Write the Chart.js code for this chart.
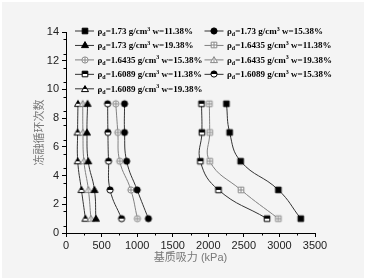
<!DOCTYPE html>
<html><head><meta charset="utf-8">
<script src="https://cdn.jsdelivr.net/npm/chart.js@4/dist/chart.umd.min.js"></script>
<style>
html,body{margin:0;padding:0;background:#fff;}
#bg{position:absolute;left:2px;top:2px;width:362px;height:276px;background:#f4f4f4;}
#wrap{position:absolute;left:0;top:0;width:366px;height:280px;}
</style></head><body>
<div id="bg"></div>
<div id="wrap"><canvas id="c" width="366" height="280"></canvas></div>
<script>
// ---- data ----
const cycles = [1, 3, 5, 7, 9];               // 冻融循环次数
const densities = ['1.73', '1.6435', '1.6089']; // ρd g/cm3
const moistures = ['11.38%', '15.38%', '19.38%'];
// 基质吸力 (kPa) at cycles 1,3,5,7,9
const d173_w1138   = [3300, 2985, 2455, 2300, 2255];
const d173_w1538   = [1158, 1000, 853, 823, 823];
const d173_w1938   = [420, 400, 312, 295, 303];
const d16435_w1138 = [2985, 2460, 2020, 2020, 2015];
const d16435_w1538 = [1004, 912, 755, 728, 700];
const d16435_w1938 = [350, 315, 252, 238, 235];
const d16089_w1138 = [2826, 2143, 1888, 1910, 1905];
const d16089_w1538 = [781, 620, 598, 589, 585];
const d16089_w1938 = [273, 217, 165, 163, 168];
const xTickValues = [0, 500, 1000, 1500, 2000, 2500, 3000, 3500];
const yTickValues = [0,1,2,3,4,5,6,7,8,9,10,11,12,13,14];

const seriesValues = [d173_w1138, d173_w1538, d173_w1938, d16435_w1138, d16435_w1538,
                      d16435_w1938, d16089_w1138, d16089_w1538, d16089_w1938];

// ---- markers ----
function marker(shape, style) {
  const S = 10, m = S / 2;
  const c = document.createElement('canvas'); c.width = S; c.height = S;
  const g = c.getContext('2d');
  const path = () => {
    g.beginPath();
    if (shape === 'square') g.rect(m - 2.8, m - 2.8, 5.6, 5.6);
    else if (shape === 'circle') g.arc(m, m, 3.1, 0, Math.PI * 2);
    else { g.moveTo(m, m - 3.4); g.lineTo(m + 3.5, m + 2.6); g.lineTo(m - 3.5, m + 2.6); g.closePath(); }
  };
  g.lineWidth = 1;
  if (style === 'solid') {
    path(); g.fillStyle = '#000'; g.fill(); g.strokeStyle = '#000'; g.stroke();
  } else if (style === 'cross') {
    path(); g.fillStyle = '#fff'; g.fill(); g.strokeStyle = '#888'; g.stroke();
    g.beginPath();
    if (shape !== 'triangle') { g.moveTo(m - 2.8, m); g.lineTo(m + 2.8, m); }
    g.moveTo(m, m - 2.8); g.lineTo(m, m + 2.6);
    g.stroke();
  } else {
    path(); g.fillStyle = '#fff'; g.fill();
    g.save(); g.beginPath(); g.rect(0, 0, S, m); g.clip();
    path(); g.fillStyle = '#000'; g.fill(); g.restore();
    path(); g.strokeStyle = '#000'; g.stroke();
  }
  return c;
}
const shapes = ['square', 'circle', 'triangle'];
const styles = ['solid', 'cross', 'half'];
const lineColors = ['#333', '#808080', '#333'];

const datasets = seriesValues.map((vals, i) => {
  const di = Math.floor(i / 3), wi = i % 3;
  return {
    label: 'ρd=' + densities[di] + ' g/cm3 w=' + moistures[wi],
    density: densities[di], moisture: moistures[wi],
    data: vals.map((v, k) => ({ x: v, y: cycles[k] })),
    borderColor: lineColors[di],
    borderWidth: 1,
    pointStyle: marker(shapes[wi], styles[di]),
    tension: 0.45,
    fill: false
  };
});

// ---- plugins ----
const minorTicks = {
  id: 'minorTicks',
  afterDraw(chart) {
    const { ctx, scales: { x, y } } = chart;
    ctx.save(); ctx.strokeStyle = '#000'; ctx.lineWidth = 1; ctx.beginPath();
    for (let v = 250; v < 3500; v += 500) {
      const px = Math.round(x.getPixelForValue(v)) + 0.5;
      ctx.moveTo(px, x.top); ctx.lineTo(px, x.top + 2.5);
    }
    for (let v = 0.5; v < 14; v += 1) {
      const py = Math.round(y.getPixelForValue(v)) + 0.5;
      ctx.moveTo(y.right, py); ctx.lineTo(y.right - 2.5, py);
    }
    ctx.stroke(); ctx.restore();
  }
};

const customLegend = {
  id: 'customLegend',
  afterDraw(chart) {
    const ctx = chart.ctx;
    const colLine = [75, 204.5], colText = [97.5, 227];
    ctx.save();
    chart.data.datasets.forEach((ds, i) => {
      const col = i % 2, row = Math.floor(i / 2);
      const cy = 31 + row * 14.45;
      ctx.strokeStyle = ds.borderColor; ctx.lineWidth = 1;
      ctx.beginPath(); ctx.moveTo(colLine[col], cy); ctx.lineTo(colLine[col] + 19, cy); ctx.stroke();
      const img = ds.pointStyle;
      ctx.drawImage(img, Math.round(colLine[col] + 9.5 - img.width / 2), Math.round(cy - img.height / 2));
      let tx = colText[col];
      const by = cy + 3;
      ctx.fillStyle = '#000'; ctx.textBaseline = 'alphabetic'; ctx.textAlign = 'left';
      const big = 'bold 9px "Liberation Serif", serif', small = 'bold 6px "Liberation Serif", serif';
      const parts = [
        [big, 'ρ', 0], [small, 'd', 2], [big, '=' + ds.density + ' g/cm', 0],
        [small, '3', -3.5], [big, ' w=' + ds.moisture, 0]
      ];
      parts.forEach(([f, t, dy]) => { ctx.font = f; ctx.fillText(t, tx, by + dy); tx += ctx.measureText(t).width; });
    });
    ctx.restore();
  }
};

const tickFont = { family: '"Liberation Sans", Arial, sans-serif', size: 11 };
const titleFont = { family: '"Liberation Sans", "Noto Sans CJK SC", sans-serif', size: 11 };

new Chart(document.getElementById('c'), {
  type: 'line',
  data: { datasets },
  options: {
    responsive: false,
    animation: false,
    indexAxis: 'y',
    devicePixelRatio: 1,
    layout: { padding: { top: 32, right: 51, left: 0, bottom: 0 } },
    plugins: { legend: { display: false }, tooltip: { enabled: false } },
    elements: { point: { radius: 3 } },
    scales: {
      x: {
        type: 'linear', position: 'bottom', min: 0, max: 3500,
        afterBuildTicks: s => { s.ticks = xTickValues.map(v => ({ value: v })); },
        ticks: { font: tickFont, color: '#222', padding: 2, maxRotation: 0, callback: v => String(v) },
        grid: { drawOnChartArea: false, drawTicks: true, tickLength: 4, color: '#000' },
        border: { color: '#000', width: 1 },
        title: { display: true, text: '基质吸力 (kPa)', color: '#777', font: titleFont, padding: { top: 0, bottom: 15.7 } },
        afterFit: s => { s.height = 47; }
      },
      y: {
        type: 'linear', position: 'left', min: 0, max: 14,
        afterBuildTicks: s => { s.ticks = yTickValues.map(v => ({ value: v })); },
        ticks: { font: tickFont, color: '#222', padding: 3, callback: v => String(v) },
        grid: { drawOnChartArea: false, drawTicks: true, tickLength: 4, color: '#000' },
        border: { color: '#000', width: 1 },
        title: { display: true, text: '冻融循环次数', color: '#777', font: titleFont, padding: { top: 33.4, bottom: 0 } },
        afterFit: s => { s.width = 66; }
      }
    }
  },
  plugins: [minorTicks, customLegend]
});
</script>
</body></html>
